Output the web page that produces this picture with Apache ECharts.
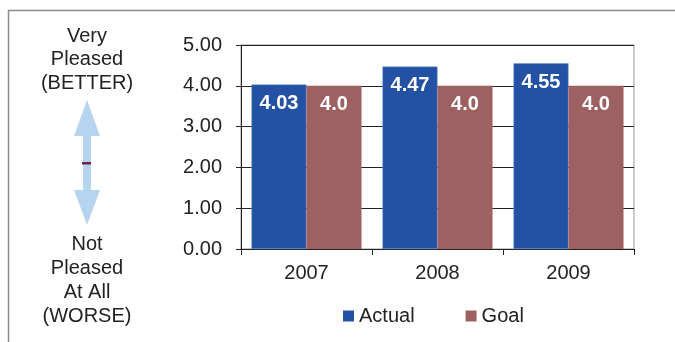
<!DOCTYPE html>
<html>
<head>
<meta charset="utf-8">
<script src="https://cdn.jsdelivr.net/npm/echarts@6/dist/echarts.min.js"></script>
<style>
  html, body { margin: 0; padding: 0; background: #fff; }
  #chart { width: 675px; height: 342px; }
</style>
</head>
<body>
<div id="chart"></div>
<script>
// Satisfaction score per year versus goal
const years = ['2007', '2008', '2009'];
const actual = [4.03, 4.47, 4.55];
const goal = [4.0, 4.0, 4.0];
const seriesNames = ['Actual', 'Goal'];
const topLabel = ['Very', 'Pleased', '(BETTER)'];
const bottomLabel = ['Not', 'Pleased', 'At All', '(WORSE)'];

const FONT = 'Liberation Sans, Arial, sans-serif';
const FS = 20;
const chart = echarts.init(document.getElementById('chart'), null, { renderer: 'canvas' });

// plain text elements placed by absolute coordinates
function label(t, x, y) {
  return {
    type: 'text',
    style: { text: t, x: x, y: y, align: 'center', verticalAlign: 'middle',
             fill: '#222', font: FS + 'px ' + FONT }
  };
}

const graphics = [
  // outer frame
  { type: 'polyline', shape: { points: [[8.5, 342], [8.5, 10.5], [675, 10.5]] },
    style: { stroke: '#8a8a8a', lineWidth: 1.5, fill: null } },
  // double-headed arrow
  { type: 'polygon',
    shape: { points: [[87, 100], [100, 136], [91, 136], [91, 190], [100, 190],
                      [87, 225], [74, 190], [83, 190], [83, 136], [74, 136]] },
    style: { fill: '#b7d4ee' } },
  { type: 'rect', shape: { x: 82, y: 162, width: 9, height: 2.5 },
    style: { fill: '#6a2448' } }
];
topLabel.forEach((t, i) => graphics.push(label(t, 87, 36 + i * 23.5)));
bottomLabel.forEach((t, i) => graphics.push(label(t, 87, 244 + i * 24)));

const option = {
  animation: false,
  textStyle: { fontFamily: FONT },
  grid: {
    left: 241, right: 41, top: 45, bottom: 93,
    show: true, borderColor: '#999', borderWidth: 1
  },
  legend: {
    data: seriesNames,
    left: 343, top: 306, padding: 0,
    itemWidth: 11, itemHeight: 11, itemGap: 51,
    icon: 'rect',
    itemStyle: { borderWidth: 0 },
    textStyle: { fontSize: FS, color: '#222', fontFamily: FONT }
  },
  xAxis: {
    type: 'category',
    data: years,
    axisLine: { lineStyle: { color: '#222', width: 1 } },
    axisTick: { show: true, length: 6, lineStyle: { color: '#222' } },
    axisLabel: { fontSize: FS, color: '#222', margin: 14, fontFamily: FONT }
  },
  yAxis: {
    type: 'value',
    min: 0, max: 5, interval: 1,
    axisLine: { show: true, lineStyle: { color: '#222', width: 1 } },
    axisTick: { show: true, length: 5, lineStyle: { color: '#222' } },
    axisLabel: { fontSize: FS, color: '#222', margin: 19, fontFamily: FONT,
                 formatter: v => v.toFixed(2) },
    splitLine: { show: true, lineStyle: { color: '#222', width: 1 } }
  },
  graphic: graphics,
  series: [
    {
      name: seriesNames[0], type: 'bar', data: actual,
      barGap: '0%', barCategoryGap: '16%',
      itemStyle: { color: '#2352a5', borderColor: '#6f8fc8', borderWidth: 0.5 },
      label: { show: true, position: 'insideTop', distance: 9,
               color: '#fff', fontWeight: 'bold', fontSize: FS, fontFamily: FONT,
               formatter: p => p.value.toFixed(2) }
    },
    {
      name: seriesNames[1], type: 'bar', data: goal,
      itemStyle: { color: '#9c6160' },
      label: { show: true, position: 'insideTop', distance: 9,
               color: '#fff', fontWeight: 'bold', fontSize: FS, fontFamily: FONT,
               formatter: p => p.value.toFixed(1) }
    }
  ]
};
chart.setOption(option);
</script>
</body>
</html>
